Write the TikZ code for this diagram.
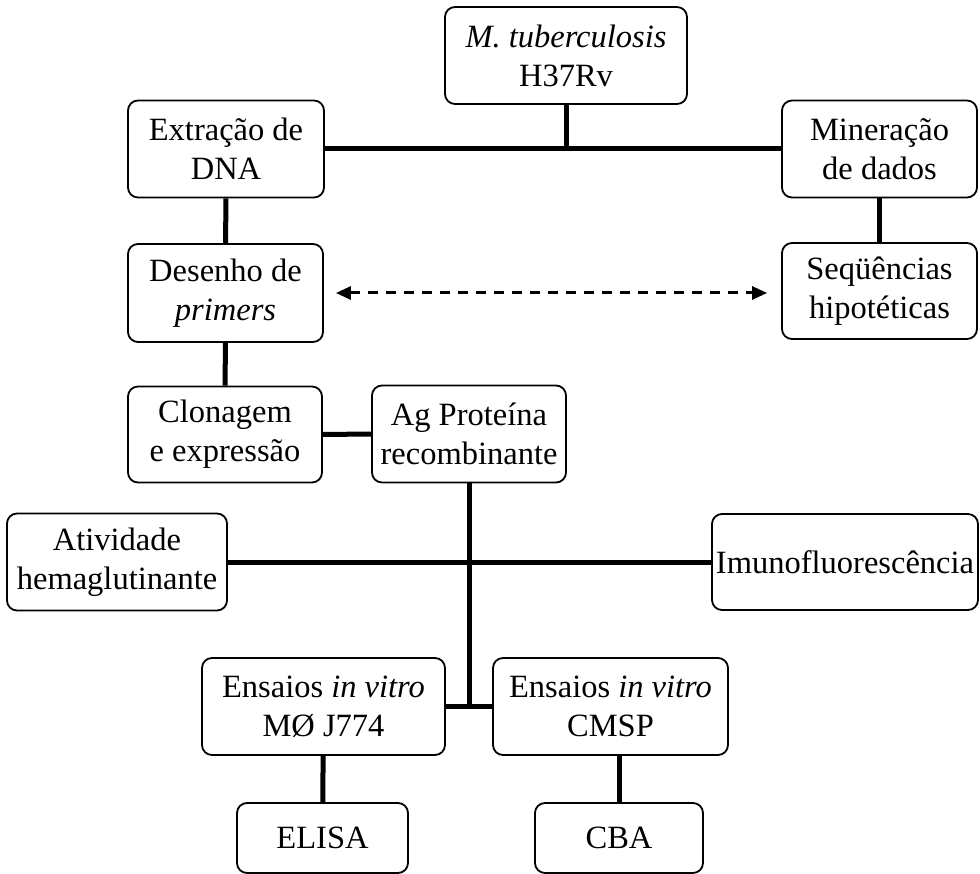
\documentclass[tikz,border=0pt]{standalone}
\usepackage{fontspec}
\setmainfont{Liberation Serif}
\usetikzlibrary{arrows.meta}
\tikzset{
  box/.style={draw, line width=1.8pt, rounded corners=10pt, inner sep=0pt, align=center,
    font=\fontsize{32.5}{39}\selectfont},
  link/.style={line width=5pt},
  dlink/.style={line width=3pt, dash pattern=on 10pt off 8pt, {Triangle[length=15pt,width=13pt]}-{Triangle[length=15pt,width=13pt]}}
}
\begin{document}
\begin{tikzpicture}[x=1pt,y=-1pt]
\useasboundingbox (0,0) rectangle (980,874);
\node[box, minimum width=242pt, minimum height=97pt] (mtb) at (566,55.5) {\textit{M. tuberculosis}\\H37Rv};
\node[box, minimum width=196pt, minimum height=97pt] (extr) at (226,149) {Extração de\\DNA};
\node[box, minimum width=195pt, minimum height=97pt] (miner) at (879.5,149) {Mineração\\de dados};
\node[box, minimum width=195pt, minimum height=98pt] (des) at (225.5,293) {Desenho de\\\textit{primers}};
\node[box, minimum width=195pt, minimum height=96pt] (seq) at (879.5,291) {Seqüências\\hipotéticas};
\node[box, minimum width=194pt, minimum height=96pt] (clon) at (225,434.5) {Clonagem\\e expressão};
\node[box, minimum width=194pt, minimum height=97pt] (ag) at (469,434) {Ag Proteína\\recombinante};
\node[box, minimum width=220pt, minimum height=97pt] (ativ) at (117,562) {Atividade\\hemaglutinante};
\node[box, minimum width=266pt, minimum height=96pt] (imuno) at (845,562) {Imunofluorescência};
\node[box, minimum width=243pt, minimum height=97pt] (ens1) at (323.5,706.5) {Ensaios \textit{in vitro}\\MØ J774};
\node[box, minimum width=235pt, minimum height=97pt] (ens2) at (610.5,706.5) {Ensaios \textit{in vitro}\\CMSP};
\node[box, minimum width=171pt, minimum height=70pt] (elisa) at (322.5,838) {ELISA};
\node[box, minimum width=168pt, minimum height=70pt] (cba) at (619,838) {CBA};

\draw[link] (extr) -- (miner);
\draw[link] (mtb.south) -- (mtb.south |- extr.east);
\draw[link] (extr) -- (des);
\draw[link] (miner) -- (seq);
\draw[dlink] ([xshift=12pt]des.east) -- ([xshift=-14pt]des.east -| seq.west);
\draw[link] (des) -- (clon);
\draw[link] (clon) -- (ag);
\draw[link] (ativ) -- (imuno);
\draw[link] (ag.south) -- (ag.south |- ens1.east);
\draw[link] (ens1) -- (ens2);
\draw[link] (ens1) -- (elisa);
\draw[link] (ens2.south -| cba.north) -- (cba);
\end{tikzpicture}
\end{document}
